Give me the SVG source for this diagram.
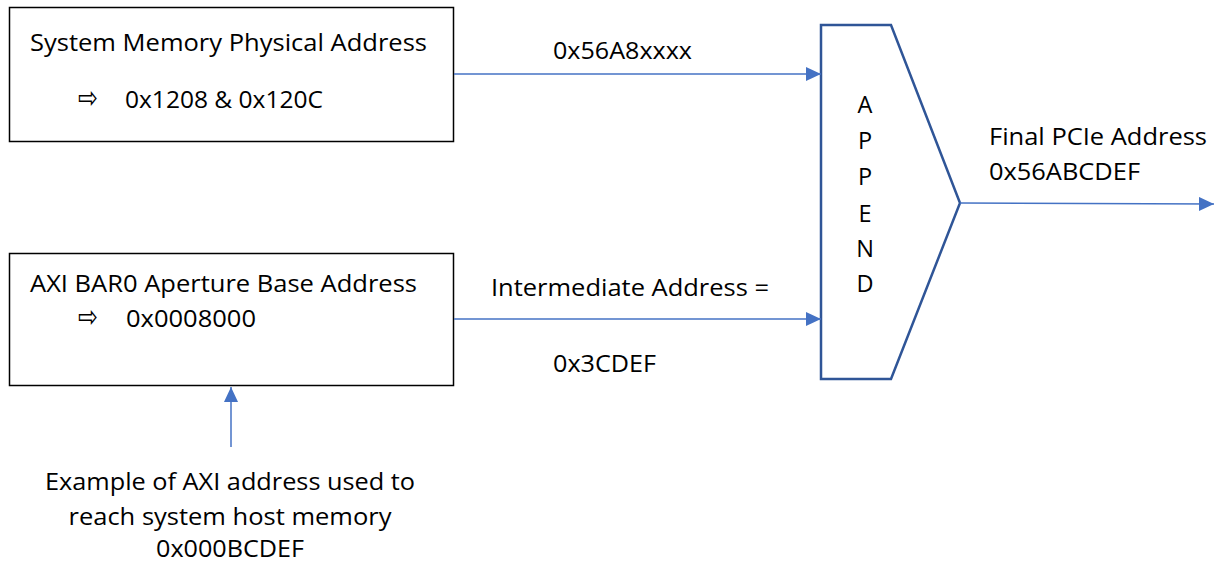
<svg xmlns="http://www.w3.org/2000/svg" width="1222" height="565" viewBox="0 0 1222 565">
<style>
.t{font-family:"Open Sans","Liberation Sans",sans-serif;font-size:23.5px;fill:#000}
.sym{font-family:"DejaVu Sans",sans-serif;font-size:30px;fill:#000}
.box{fill:#fff;stroke:#000;stroke-width:1.5}
.conn{stroke:#4472C4;stroke-width:1.5;fill:none}
</style>
<defs>
<marker id="ah" markerUnits="userSpaceOnUse" markerWidth="16" markerHeight="14" refX="15" refY="7" orient="auto">
<path d="M0,0 L15,7 L0,14 Z" fill="#4472C4"/>
</marker>
</defs>
<rect width="1222" height="565" fill="#fff"/>
<g id="sysmem">
<rect class="box" x="9.5" y="7.5" width="444" height="134"/>
<text class="t" x="30" y="51" textLength="397" lengthAdjust="spacingAndGlyphs">System Memory Physical Address</text>
<text class="sym" x="78" y="108" textLength="20" lengthAdjust="spacingAndGlyphs">⇨</text>
<text class="t" x="125" y="108" textLength="198" lengthAdjust="spacingAndGlyphs">0x1208 &amp; 0x120C</text>
</g>
<g id="axibar">
<rect class="box" x="9.5" y="253.5" width="444" height="132"/>
<text class="t" x="30" y="292" textLength="387" lengthAdjust="spacingAndGlyphs">AXI BAR0 Aperture Base Address</text>
<text class="sym" x="78" y="327" textLength="20" lengthAdjust="spacingAndGlyphs">⇨</text>
<text class="t" x="126" y="327" textLength="130" lengthAdjust="spacingAndGlyphs">0x0008000</text>
</g>
<g id="append">
<path d="M821,25 L891,25 L960,203 L891,379 L821,379 Z" fill="#fff" stroke="#2F5597" stroke-width="2.5"/>
<g class="t" text-anchor="middle">
<text x="865" y="113">A</text>
<text x="865" y="149">P</text>
<text x="865" y="185">P</text>
<text x="865" y="222">E</text>
<text x="865" y="257">N</text>
<text x="865" y="292">D</text>
</g>
</g>
<g id="example">
<text class="t" text-anchor="middle" x="230" y="490" textLength="370" lengthAdjust="spacingAndGlyphs">Example of AXI address used to</text>
<text class="t" text-anchor="middle" x="230" y="525" textLength="323" lengthAdjust="spacingAndGlyphs">reach system host memory</text>
<text class="t" text-anchor="middle" x="230" y="557" textLength="148" lengthAdjust="spacingAndGlyphs">0x000BCDEF</text>
</g>
<g id="connectors">
<line class="conn" x1="454" y1="74" x2="821" y2="74" marker-end="url(#ah)"/>
<line class="conn" x1="454" y1="319" x2="821" y2="319" marker-end="url(#ah)"/>
<line class="conn" x1="960" y1="203" x2="1214" y2="204" marker-end="url(#ah)"/>
<line class="conn" x1="231" y1="447" x2="231" y2="387" marker-end="url(#ah)"/>
</g>
<g id="labels">
<text class="t" x="553" y="59" textLength="139" lengthAdjust="spacingAndGlyphs">0x56A8xxxx</text>
<text class="t" x="491" y="296" textLength="278" lengthAdjust="spacingAndGlyphs">Intermediate Address =</text>
<text class="t" x="553" y="372" textLength="103" lengthAdjust="spacingAndGlyphs">0x3CDEF</text>
<text class="t" x="989" y="145" textLength="218" lengthAdjust="spacingAndGlyphs">Final PCIe Address</text>
<text class="t" x="989" y="180" textLength="151" lengthAdjust="spacingAndGlyphs">0x56ABCDEF</text>
</g>
</svg>
